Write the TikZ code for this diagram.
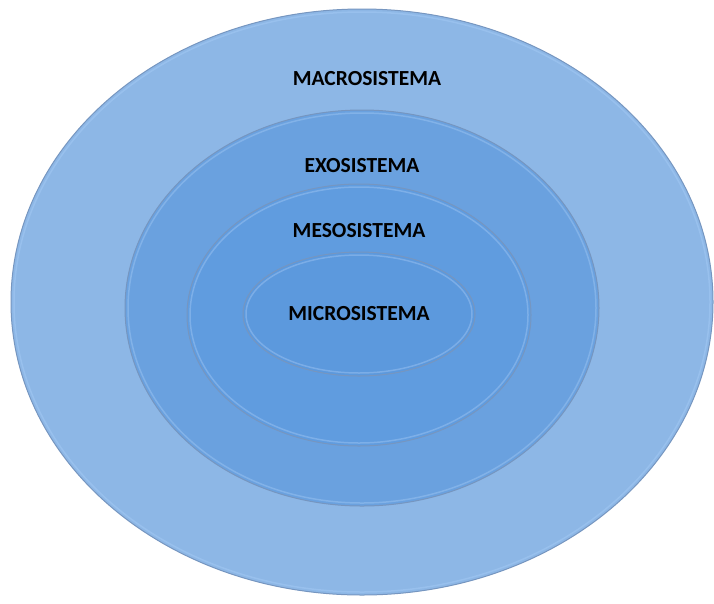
\documentclass[tikz,border=0pt]{standalone}
\usepackage{fontspec}
\setmainfont{Carlito}
\definecolor{macroC}{RGB}{141,183,230}
\definecolor{exoC}{RGB}{106,161,223}
\definecolor{mesoC}{RGB}{96,156,223}
\definecolor{microC}{RGB}{92,153,221}
\definecolor{rimC}{RGB}{118,150,192}
\definecolor{hiC}{RGB}{160,198,242}
\begin{document}
\begin{tikzpicture}[x=1pt,y=-1pt,
  ring/.style={draw=rimC,line width=1pt},
  lbl/.style={font=\fontsize{21.5}{24}\selectfont\bfseries,text=black,inner sep=0pt}]
\useasboundingbox (0,0) rectangle (714,603);
\fill[white] (0,0) rectangle (714,603);
% outer
\path[ring,fill=macroC] (362,302) ellipse [x radius=351,y radius=293];
\draw[hiC!60!macroC,line width=1.5pt] (362,302) ellipse [x radius=348,y radius=290];
% exo
\path[ring,fill=exoC] (362,308) ellipse [x radius=237,y radius=198];
\draw[hiC!45!exoC,line width=1.5pt] (362,308) ellipse [x radius=234,y radius=195];
% meso
\path[ring,fill=mesoC] (359,315) ellipse [x radius=172,y radius=131];
\draw[hiC!45!mesoC,line width=1.5pt] (359,315) ellipse [x radius=169,y radius=128];
% micro
\path[ring,fill=microC] (359,314) ellipse [x radius=116,y radius=62];
\draw[hiC!45!microC,line width=1.5pt] (359,314) ellipse [x radius=113,y radius=59];
\node[lbl] (macro) at (367,79) {MACROSISTEMA};
\node[lbl] (exo) at (362,166) {EXOSISTEMA};
\node[lbl] (meso) at (359,231) {MESOSISTEMA};
\node[lbl] (micro) at (359,314) {MICROSISTEMA};
\end{tikzpicture}
\end{document}
